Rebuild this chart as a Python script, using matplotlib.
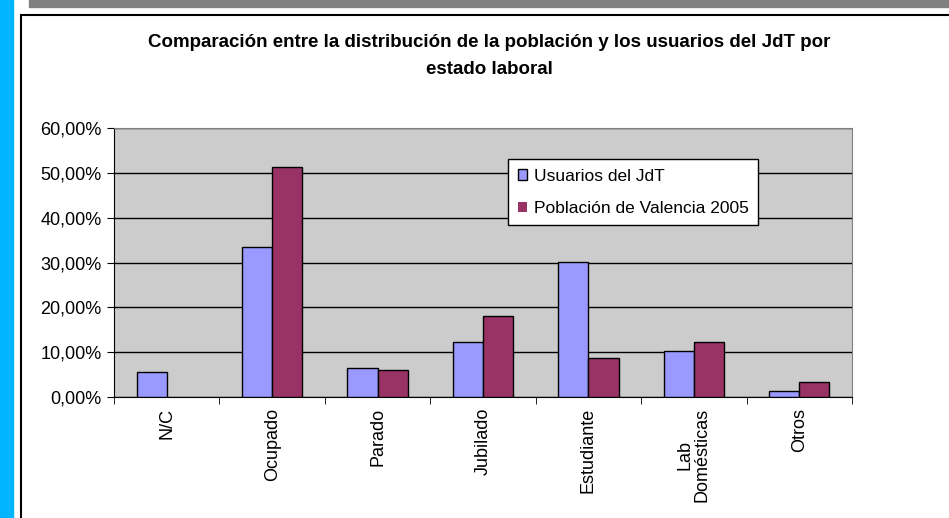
import numpy as np
import matplotlib.pyplot as plt
from matplotlib.patches import Rectangle
from matplotlib.ticker import FixedLocator, FuncFormatter

categories = ['N/C', 'Ocupado', 'Parado', 'Jubilado', 'Estudiante', 'Lab\nDomésticas', 'Otros']
usuarios = [5.6, 33.5, 6.5, 12.3, 30.1, 10.3, 1.3]
poblacion = [0.0, 51.3, 6.0, 18.1, 8.7, 12.3, 3.3]
series_names = ['Usuarios del JdT', 'Población de Valencia 2005']
title = 'Comparación entre la distribución de la población y los usuarios del JdT por\nestado laboral'

plt.rcParams['font.family'] = ['Liberation Sans', 'DejaVu Sans']

W, H = 949, 518
fig = plt.figure(figsize=(W / 100, H / 100), dpi=100)

def px(x0, y0, x1, y1):
    # pixel box -> figure fraction rect
    return [x0 / W, 1 - y1 / H, (x1 - x0) / W, (y1 - y0) / H]

# page decorations
fig.patches.append(Rectangle((0, 0), 13 / W, 1, transform=fig.transFigure,
                             color='#00B4FF', zorder=0))
fig.patches.append(Rectangle((29 / W, 1 - 7 / H), 1, 7 / H, transform=fig.transFigure,
                             color='#808080', zorder=0))
fig.patches.append(Rectangle((21 / W, -0.05), 1, 1 - 15 / H + 0.05, transform=fig.transFigure,
                             facecolor='none', edgecolor='black', lw=1.5, zorder=1))

ax = fig.add_axes(px(114, 128, 852, 397))
ax.set_facecolor('#CCCCCC')

x = np.arange(len(categories))
w = 0.2857
ax.bar(x - w / 2, usuarios, w, color='#9999FF', edgecolor='black', lw=1, label=series_names[0], zorder=3)
ax.bar(x + w / 2, poblacion, w, color='#993366', edgecolor='black',
       lw=[1 if v > 0 else 0 for v in poblacion], label=series_names[1], zorder=3)

ax.set_xlim(-0.5, len(categories) - 0.5)
ax.set_ylim(0, 60)
ax.set_yticks(np.arange(0, 61, 10))
ax.yaxis.set_major_formatter(FuncFormatter(lambda v, p: f'{v:.2f}'.replace('.', ',') + '%'))
ax.yaxis.grid(True, color='black', lw=1, zorder=1)
ax.set_axisbelow(True)

ax.set_xticks(x)
ax.set_xticklabels(categories, rotation=90, fontsize=13, linespacing=1.0)
ax.xaxis.set_minor_locator(FixedLocator(np.arange(-0.5, len(categories), 1)))
ax.tick_params(axis='x', which='major', length=0, pad=8)
ax.tick_params(axis='x', which='minor', length=5, direction='out', color='black')
ax.tick_params(axis='y', length=5, direction='out', labelsize=13, pad=4)

for s in ['top', 'right']:
    ax.spines[s].set_color('#808080')
for s in ['left', 'bottom']:
    ax.spines[s].set_color('black')

leg = ax.legend(loc='upper left', bbox_to_anchor=((508 - 114) / 738, 1 - (159 - 128) / 269),
                fontsize=12.5, frameon=True, fancybox=False, edgecolor='black',
                handlelength=0.55, handleheight=0.55, handletextpad=0.4,
                borderpad=0.55, labelspacing=1.0, borderaxespad=0)
leg.get_frame().set_linewidth(1)
leg.get_frame().set_facecolor('white')
leg.get_frame().set_alpha(1)

fig.text(489 / W, 1 - 56 / H, title, ha='center', va='center', fontsize=13.5,
         fontweight='bold', linespacing=1.75)

fig.savefig('out.png', dpi=100)
